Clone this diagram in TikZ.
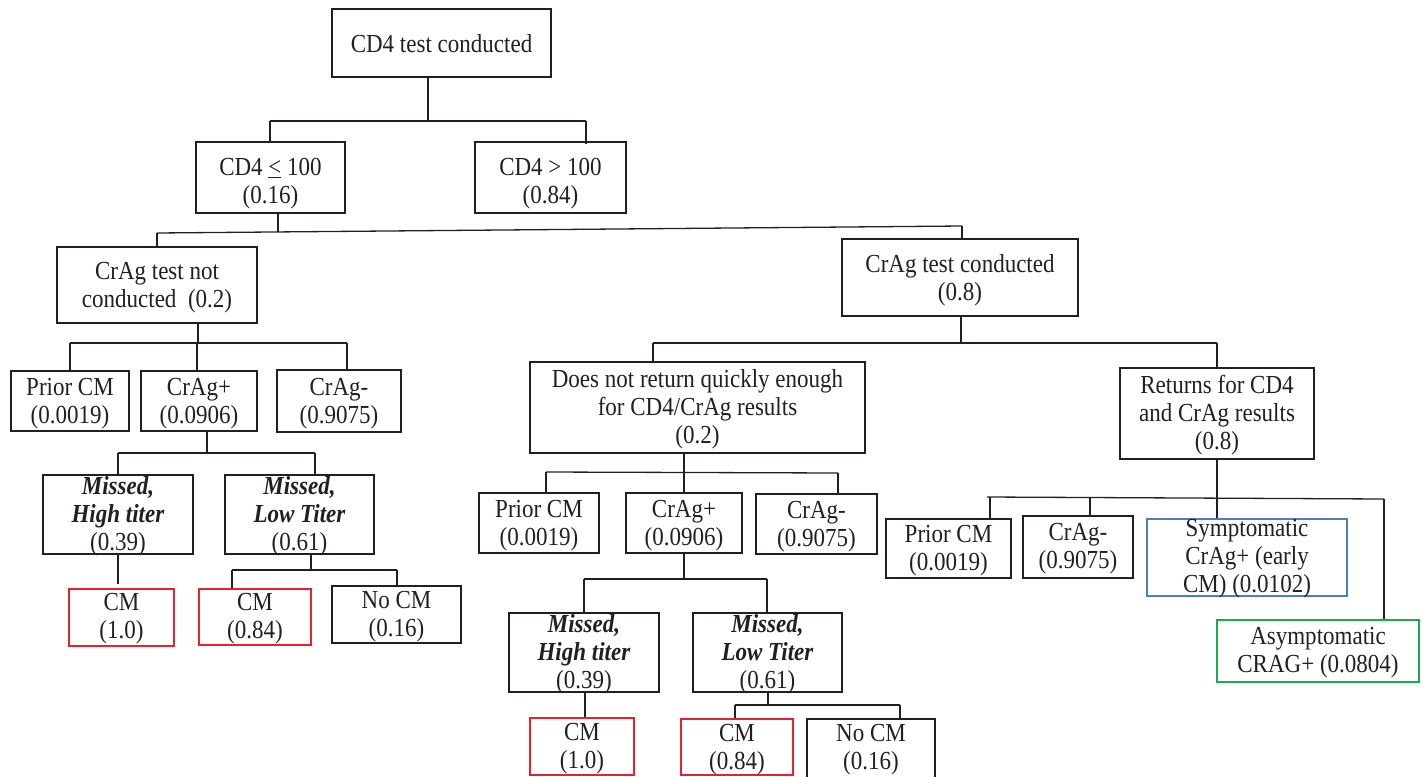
\documentclass[tikz,border=0pt]{standalone}
\usepackage{fontspec}
\setmainfont{Liberation Serif}[FakeStretch=0.885]
\usetikzlibrary{calc}
\definecolor{bred}{HTML}{E8212B}
\definecolor{bblue}{HTML}{4A7EBF}
\definecolor{bgreen}{HTML}{1DAA4B}
\definecolor{ink}{HTML}{231F20}
\newcommand\tfont{\fontsize{26}{28}\selectfont}
\newcommand\bi[1]{\textbf{\textit{#1}}}
% #1 text shift (down), #2 box style, #3 name, #4 centre, #5 width, #6 height, #7 text
\newcommand\bx[7][2.5]{%
  \node[#2, minimum width=#5pt, minimum height=#6pt] (#3) at #4 {};
  \node[txt] (#3-t) at ($(#3.center)+(0,#1)$) {#7};}
\begin{document}
\begin{tikzpicture}[x=1pt,y=-1pt,
  box/.style={draw=ink, inner sep=0pt, line width=1.3pt},
  thickbox/.style={box, line width=2.7pt},
  redbox/.style={box, draw=bred, line width=1.8pt},
  bluebox/.style={box, draw=bblue, line width=1.8pt},
  greenbox/.style={box, draw=bgreen, line width=2pt},
  txt/.style={text=ink, inner sep=0pt, align=center, font=\tfont},
  conn/.style={draw=ink, line width=1.3pt}]
\useasboundingbox (0,0) rectangle (1423,776);

% ---- boxes ----
\bx[1]{thickbox}{top}{(441.5,43)}{219}{68}{CD4 test conducted}
\bx[6.5]{box}{le100}{(270.5,177.5)}{149}{71}{CD4 \underline{<} 100\\(0.16)}
\bx[6.5]{thickbox}{gt100}{(550.5,177.5)}{151}{71}{CD4 > 100\\(0.84)}
\bx{box}{notc}{(157,285)}{200}{76}{CrAg test not\\conducted~~(0.2)}
\bx{box}{cond}{(960,277.5)}{236}{77}{CrAg test conducted\\(0.8)}

% left subtree
\bx{box}{aprior}{(70,401)}{118}{60}{Prior CM\\(0.0019)}
\bx{box}{apos}{(199,401)}{116}{60}{CrAg+\\(0.0906)}
\bx{thickbox}{aneg}{(339,401)}{124}{62}{CrAg-\\(0.9075)}
\bx[2]{box}{ahigh}{(118,514.5)}{150}{79}{\bi{Missed,}\\\bi{High titer}\\(0.39)}
\bx[2]{thickbox}{alow}{(299.5,514.5)}{149}{79}{\bi{Missed,}\\\bi{Low Titer}\\(0.61)}
\bx[1]{redbox}{acma}{(121.5,617.5)}{105}{57}{CM\\(1.0)}
\bx[1.5]{redbox}{acmb}{(255,617)}{112}{56}{CM\\(0.84)}
\bx[2]{thickbox}{anocm}{(396.5,614.5)}{129}{57}{No CM\\(0.16)}

% middle subtree
\bx[2]{box}{dnr}{(697.5,407.5)}{335}{91}{Does not return quickly enough\\for CD4/CrAg results\\(0.2)}
\bx{thickbox}{mprior}{(539,523)}{120}{60}{Prior CM\\(0.0019)}
\bx{thickbox}{mpos}{(684,523)}{116}{60}{CrAg+\\(0.0906)}
\bx{thickbox}{mneg}{(816.5,524)}{121}{60}{CrAg-\\(0.9075)}
\bx[2]{thickbox}{mhigh}{(584,652.5)}{150}{79}{\bi{Missed,}\\\bi{High titer}\\(0.39)}
\bx[2]{thickbox}{mlow}{(767.5,652.5)}{149}{79}{\bi{Missed,}\\\bi{Low Titer}\\(0.61)}
\bx{redbox}{mcma}{(582,746.5)}{104}{57}{CM\\(1.0)}
\bx{redbox}{mcmb}{(737,747)}{112}{56}{CM\\(0.84)}
\bx[0]{thickbox}{mnocm}{(871,750)}{128}{62}{No CM\\(0.16)}

% right subtree
\bx[2]{thickbox}{ret}{(1217,413.5)}{194}{91}{Returns for CD4\\and CrAg results\\(0.8)}
\bx[2]{box}{rprior}{(948.5,548.5)}{125}{59}{Prior CM\\(0.0019)}
\bx[2]{thickbox}{rneg}{(1078,547)}{110}{62}{CrAg-\\(0.9075)}
\bx[1]{bluebox}{rsym}{(1247,557.5)}{200}{77}{Symptomatic\\CrAg+ (early\\CM) (0.0102)}
\bx[2]{greenbox}{rasym}{(1318,651)}{202}{62}{\fontsize{26}{31}\selectfont Asymptomatic\\CRAG+ (0.0804)}

% ---- connectors ----
% level 1
\coordinate (t1) at (428,121);
\coordinate (t1l) at (270,121);
\coordinate (t1r) at (586,121);
\draw[conn] (top.south -| t1) -- (t1);
\draw[conn] (t1l) -- (t1r);
\draw[conn] (t1l) -- (le100.north -| t1l);
\draw[conn] (t1r) -- ($(gt100.north -| t1r)+(0,3)$);

% level 2 (slightly slanted bar)
\coordinate (t2) at (278,232);
\coordinate (t2l) at (157,233);
\coordinate (t2r) at (962,226);
\draw[conn] (le100.south -| t2) -- (t2);
\draw[conn] (t2l) -- (t2r);
\draw[conn] (t2l) -- (notc.north -| t2l);
\draw[conn] (t2r) -- (cond.north -| t2r);

% left subtree
\coordinate (t3) at (198,343);
\coordinate (t3l) at (70,343);
\coordinate (t3m) at (197,343);
\coordinate (t3r) at (347,343);
\draw[conn] (notc.south -| t3) -- (t3);
\draw[conn] (t3l) -- (t3r);
\draw[conn] (t3l) -- (aprior.north -| t3l);
\draw[conn] (t3m) -- (apos.north -| t3m);
\draw[conn] (t3r) -- (aneg.north -| t3r);

\coordinate (t4) at (207,453);
\coordinate (t4l) at (118,453);
\coordinate (t4r) at (315,453);
\draw[conn] (apos.south -| t4) -- (t4);
\draw[conn] (t4l) -- (t4r);
\draw[conn] (t4l) -- (ahigh.north -| t4l);
\draw[conn] (t4r) -- (alow.north -| t4r);

\coordinate (t5) at (118,584);
\draw[conn] (ahigh.south -| t5) -- (t5);

\coordinate (t6) at (311,570);
\coordinate (t6l) at (232,570);
\coordinate (t6r) at (397,570);
\draw[conn] (alow.south -| t6) -- (t6);
\draw[conn] (t6l) -- (t6r);
\draw[conn] (t6l) -- (acmb.north -| t6l);
\draw[conn] (t6r) -- (anocm.north -| t6r);

% right of level 3
\coordinate (t7) at (961,343);
\coordinate (t7l) at (653,343);
\coordinate (t7r) at (1217,343);
\draw[conn] (cond.south -| t7) -- (t7);
\draw[conn] (t7l) -- (t7r);
\draw[conn] (t7l) -- (dnr.north -| t7l);
\draw[conn] (t7r) -- (ret.north -| t7r);

% middle subtree
\coordinate (t8) at (684,472);
\coordinate (t8l) at (546,472);
\coordinate (t8r) at (838,473);
\draw[conn] (dnr.south -| t8) -- (t8);
\draw[conn] (t8l) -- (t8r);
\draw[conn] (t8l) -- (mprior.north -| t8l);
\draw[conn] (t8) -- (mpos.north -| t8);
\draw[conn] (t8r) -- (mneg.north -| t8r);

\coordinate (t9) at (684,579);
\coordinate (t9l) at (584,579);
\coordinate (t9r) at (767,579);
\draw[conn] (mpos.south -| t9) -- (t9);
\draw[conn] (t9l) -- (t9r);
\draw[conn] (t9l) -- (mhigh.north -| t9l);
\draw[conn] (t9r) -- (mlow.north -| t9r);

\coordinate (t10) at (585,700);
\draw[conn] (mhigh.south -| t10) -- (mcma.north -| t10);

\coordinate (t11) at (768,705);
\coordinate (t11l) at (735,705);
\coordinate (t11r) at (900,705);
\draw[conn] (mlow.south -| t11) -- (t11);
\draw[conn] (t11l) -- (t11r);
\draw[conn] (t11l) -- (mcmb.north -| t11l);
\draw[conn] (t11r) -- (mnocm.north -| t11r);

% right subtree
\coordinate (t12) at (1217,498);
\coordinate (t12l) at (987,497);
\coordinate (t12r) at (1384,499);
\coordinate (t12a) at (990,497);
\coordinate (t12b) at (1090,498);
\draw[conn] (ret.south -| t12) -- (rsym.north -| t12);
\draw[conn] (t12l) -- (t12r);
\draw[conn] (t12a) -- (rprior.north -| t12a);
\draw[conn] (t12b) -- (rneg.north -| t12b);
\draw[conn] (t12r) -- (rasym.north -| t12r);
\end{tikzpicture}
\end{document}
